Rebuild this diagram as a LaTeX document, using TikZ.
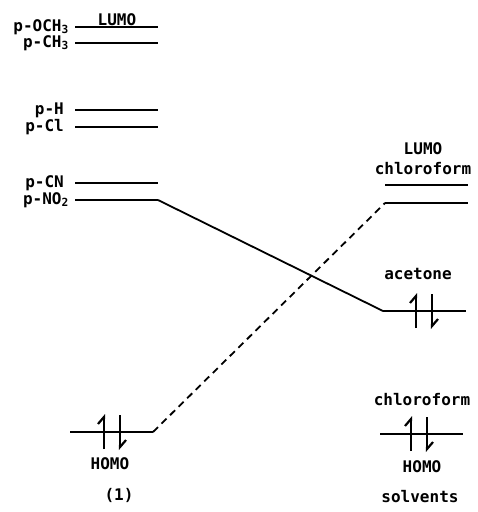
\documentclass[tikz,border=0pt]{standalone}
\usepackage{fontspec}
\setmonofont{DejaVu Sans Mono}
\usetikzlibrary{arrows.meta}
\begin{document}
\begin{tikzpicture}[x=1pt,y=-1pt,
  lbl/.style={font=\ttfamily\bfseries\fontsize{16}{16}\selectfont, inner sep=0pt},
  level/.style={line width=2.6pt},
  link/.style={line width=1.8pt},
  spin/.style={line width=2.2pt, -{Straight Barb[left,length=7pt,width=12pt]}},
  pics/epair/.style={code={
    \draw[spin] (-8,17) -- (-8,-18);
    \draw[spin] (8,-17) -- (8,18);
  }}
]
\useasboundingbox (0,0) rectangle (478,512);

% substituent LUMO levels of (1)
\foreach \n/\y in {och/27, ch/43, h/110, cl/127, cn/183, no/200} {
  \coordinate (\n-a) at (75,\y);
  \coordinate (\n-b) at (158,\y);
  \draw[level] (\n-a) -- (\n-b);
}
\node[lbl, anchor=east] (l-och) at (69,27) {p-OCH\textsubscript{3}};
\node[lbl, anchor=east] (l-ch)  at (69,43) {p-CH\textsubscript{3}};
\node[lbl, anchor=east] (l-h)   at (64,110) {p-H};
\node[lbl, anchor=east] (l-cl)  at (64,127) {p-Cl};
\node[lbl, anchor=east] (l-cn)  at (64,183) {p-CN};
\node[lbl, anchor=east] (l-no)  at (69,200) {p-NO\textsubscript{2}};
\node[lbl, anchor=base] (lumo1) at (117,25) {LUMO};

% HOMO of (1)
\coordinate (homo-a) at (70,432);
\coordinate (homo-b) at (153,432);
\draw[level] (homo-a) -- (homo-b);
\pic at (112,432) {epair};
\node[lbl] (homo1) at (110,464) {HOMO};
\node[lbl] (cmpd) at (119,495) {(1)};

% solvent levels
\node[lbl] (lumo2) at (423,149) {LUMO};
\node[lbl] (chl1) at (423,169) {chloroform};
\coordinate (sl1-a) at (385,185);
\coordinate (sl1-b) at (468,185);
\coordinate (sl2-a) at (385,203);
\coordinate (sl2-b) at (468,203);
\draw[level] (sl1-a) -- (sl1-b);
\draw[level] (sl2-a) -- (sl2-b);

\node[lbl] (acet) at (418,274) {acetone};
\coordinate (ac-a) at (383,311);
\coordinate (ac-b) at (466,311);
\draw[level] (ac-a) -- (ac-b);
\pic at (424,311) {epair};

\node[lbl] (chl2) at (422,400) {chloroform};
\coordinate (ch-a) at (380,434);
\coordinate (ch-b) at (463,434);
\draw[level] (ch-a) -- (ch-b);
\pic at (419,434) {epair};
\node[lbl] (homo2) at (422,467) {HOMO};
\node[lbl] (solv) at (420,497) {solvents};

% correlation lines
\draw[link] (no-b) -- (ac-a);
\draw[link, dash pattern=on 7pt off 5pt] (homo-b) -- (sl2-a);
\end{tikzpicture}
\end{document}
